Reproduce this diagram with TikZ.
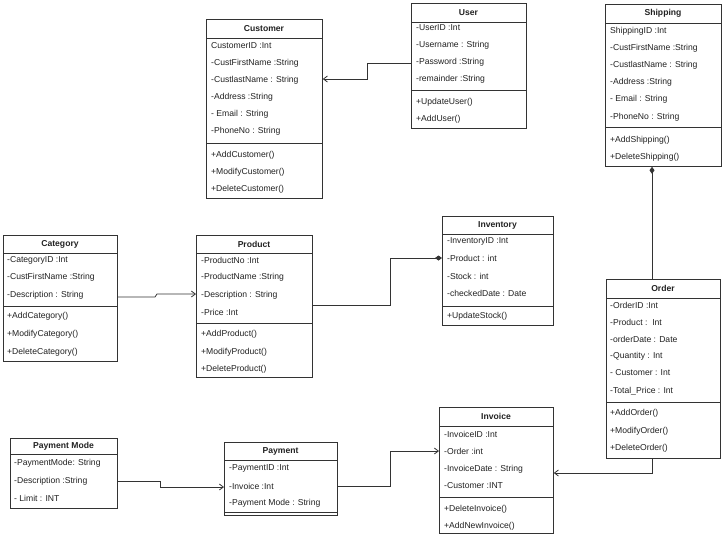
\documentclass[tikz,border=0pt]{standalone}
\usepackage{fontspec}
\setmainfont{Liberation Sans}
\usetikzlibrary{arrows.meta}
\definecolor{ln}{HTML}{333333}
\definecolor{tx}{HTML}{222222}
\tikzset{
  classbox/.style={draw=ln, line width=0.8pt, fill=white, anchor=north west, inner sep=0pt, minimum width=#1},
  title/.style={font=\bfseries\fontsize{8.6}{10}\selectfont, text=tx, inner sep=0pt, anchor=center},
  item/.style={font=\fontsize{8.6}{10}\selectfont, text=tx, inner sep=0pt, anchor=west},
  rule/.style={draw=ln, line width=0.8pt},
  conn/.style={draw=ln, line width=0.8pt},
  openarrow/.style={-{Straight Barb[length=4pt,width=6pt]}},
  compo/.style={-{Diamond[length=7pt,width=5pt]}}
}
\begin{document}
\begin{tikzpicture}[x=1pt,y=-1pt]
\useasboundingbox (0,0) rectangle (723,539);
\fill[white] (0,0) rectangle (723,539);

% Customer
\node[classbox=116pt, minimum height=179pt] (cust) at (206,19) {};
\draw[rule] (206,38) -- (322,38);
\draw[rule] (206,143) -- (322,143);
\node[title] (custT) at (264,28.5) {Customer};
\node[item] (c1) at (211,46) {CustomerID :Int};
\node[item] (c2) at (211,63) {-CustFirstName :String};
\node[item] (c3) at (211,80) {-CustlastName : String};
\node[item] (c4) at (211,97) {-Address :String};
\node[item] (c5) at (211,114) {- Email : String};
\node[item] (c6) at (211,131) {-PhoneNo : String};
\node[item] (c7) at (211,155) {+AddCustomer()};
\node[item] (c8) at (211,172) {+ModifyCustomer()};
\node[item] (c9) at (211,189) {+DeleteCustomer()};

% User
\node[classbox=115pt, minimum height=125pt] (user) at (411,3) {};
\draw[rule] (411,22) -- (526,22);
\draw[rule] (411,90) -- (526,90);
\node[title] (userT) at (468.5,12.5) {User};
\node[item] (u1) at (416,28) {-UserID :Int};
\node[item] (u2) at (416,45) {-Username : String};
\node[item] (u3) at (416,62) {-Password :String};
\node[item] (u4) at (416,79) {-remainder :String};
\node[item] (u5) at (416,102) {+UpdateUser()};
\node[item] (u6) at (416,119) {+AddUser()};

% Shipping
\node[classbox=116pt, minimum height=162pt] (ship) at (605,4) {};
\draw[rule] (605,23) -- (721,23);
\draw[rule] (605,127) -- (721,127);
\node[title] (shipT) at (663,13.5) {Shipping};
\node[item] (s1) at (610,31) {ShippingID :Int};
\node[item] (s2) at (610,48) {-CustFirstName :String};
\node[item] (s3) at (610,65) {-CustlastName : String};
\node[item] (s4) at (610,82) {-Address :String};
\node[item] (s5) at (610,99) {- Email : String};
\node[item] (s6) at (610,117) {-PhoneNo : String};
\node[item] (s7) at (610,140) {+AddShipping()};
\node[item] (s8) at (610,157) {+DeleteShipping()};

% Category
\node[classbox=114pt, minimum height=126pt] (cat) at (3,235) {};
\draw[rule] (3,253) -- (117,253);
\draw[rule] (3,306) -- (117,306);
\node[title] (catT) at (60,244) {Category};
\node[item] (k1) at (7,260) {-CategoryID :Int};
\node[item] (k2) at (7,277) {-CustFirstName :String};
\node[item] (k3) at (7,295) {-Description : String};
\node[item] (k4) at (7,316) {+AddCategory()};
\node[item] (k5) at (7,334) {+ModifyCategory()};
\node[item] (k6) at (7,352) {+DeleteCategory()};

% Product
\node[classbox=116pt, minimum height=142pt] (prod) at (196,235) {};
\draw[rule] (196,253) -- (312,253);
\draw[rule] (196,323) -- (312,323);
\node[title] (prodT) at (254,244) {Product};
\node[item] (p1) at (201,260) {-ProductNo :Int};
\node[item] (p2) at (201,277) {-ProductName :String};
\node[item] (p3) at (201,295) {-Description : String};
\node[item] (p4) at (201,312) {-Price :Int};
\node[item] (p5) at (201,334) {+AddProduct()};
\node[item] (p6) at (201,352) {+ModifyProduct()};
\node[item] (p7) at (201,369) {+DeleteProduct()};

% Inventory
\node[classbox=111pt, minimum height=109pt] (inv) at (442,216) {};
\draw[rule] (442,234) -- (553,234);
\draw[rule] (442,306) -- (553,306);
\node[title] (invT) at (497.5,225) {Inventory};
\node[item] (i1) at (447,241) {-InventoryID :Int};
\node[item] (i2) at (447,258) {-Product : int};
\node[item] (i3) at (447,276) {-Stock : int};
\node[item] (i4) at (447,293) {-checkedDate : Date};
\node[item] (i5) at (447,316) {+UpdateStock()};

% Order
\node[classbox=114pt, minimum height=179pt] (ord) at (606,279) {};
\draw[rule] (606,298) -- (720,298);
\draw[rule] (606,402) -- (720,402);
\node[title] (ordT) at (663,288.5) {Order};
\node[item] (o1) at (610,305) {-OrderID :Int};
\node[item] (o2) at (610,322) {-Product :\ \ Int};
\node[item] (o3) at (610,339) {-orderDate : Date};
\node[item] (o4) at (610,356) {-Quantity : Int};
\node[item] (o5) at (610,373) {- Customer : Int};
\node[item] (o6) at (610,391) {-Total\_Price : Int};
\node[item] (o7) at (610,413) {+AddOrder()};
\node[item] (o8) at (610,431) {+ModifyOrder()};
\node[item] (o9) at (610,448) {+DeleteOrder()};

% Payment Mode
\node[classbox=107pt, minimum height=70pt] (pm) at (10,438) {};
\draw[rule] (10,454) -- (117,454);
\node[title] (pmT) at (63.5,446) {Payment Mode};
\node[item] (m1) at (14,463) {-PaymentMode: String};
\node[item] (m2) at (14,481) {-Description :String};
\node[item] (m3) at (14,498) {- Limit : INT};

% Payment
\node[classbox=113pt, minimum height=73pt] (pay) at (224,442) {};
\draw[rule] (224,460) -- (337,460);
\draw[rule] (224,512) -- (337,512);
\node[title] (payT) at (280.5,451) {Payment};
\node[item] (y1) at (229,468) {-PaymentID :Int};
\node[item] (y2) at (229,486) {-Invoice :Int};
\node[item] (y3) at (229,503) {-Payment Mode : String};

% Invoice
\node[classbox=114pt, minimum height=126pt] (invo) at (439,407) {};
\draw[rule] (439,426) -- (553,426);
\draw[rule] (439,497) -- (553,497);
\node[title] (invoT) at (496,416.5) {Invoice};
\node[item] (v1) at (444,434) {-InvoiceID :Int};
\node[item] (v2) at (444,451) {-Order :int};
\node[item] (v3) at (444,469) {-InvoiceDate : String};
\node[item] (v4) at (444,486) {-Customer :INT};
\node[item] (v5) at (444,509) {+DeleteInvoice()};
\node[item] (v6) at (444,526) {+AddNewInvoice()};

% Connectors
\draw[conn, openarrow] (user.west |- 0,63) -- (367,63) -- (367,79) -- (cust.east |- 0,79);
\draw[conn, openarrow] (cat.east |- 0,297) -- (155,297) -- (157,294) -- (prod.west |- 0,294);
\draw[conn, compo] (prod.east |- 0,305) -- (390,305) -- (390,258) -- (inv.west |- 0,258);
\draw[conn, compo] (ord.north -| 652,0) -- (ship.south -| 652,0);
\draw[conn, openarrow] (ord.south -| 652,0) -- (652,473) -- (invo.east |- 0,473);
\draw[conn, openarrow] (pm.east |- 0,481) -- (160,481) -- (160,487) -- (pay.west |- 0,487);
\draw[conn, openarrow] (pay.east |- 0,486) -- (390,486) -- (390,451) -- (invo.west |- 0,451);
\end{tikzpicture}
\end{document}
